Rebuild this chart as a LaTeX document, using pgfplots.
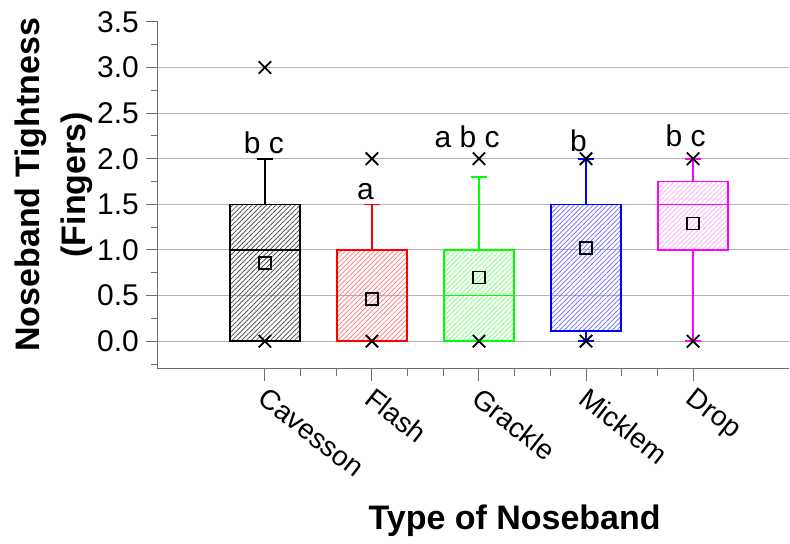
\documentclass[border=0pt]{standalone}
\usepackage{fontspec}
\setmainfont{Liberation Sans}
\usepackage{pgfplots}
\pgfplotsset{compat=1.18}
\usepgfplotslibrary{statistics}
\usetikzlibrary{patterns.meta}

\definecolor{cblack}{RGB}{0,0,0}
\definecolor{cred}{RGB}{255,0,0}
\definecolor{cgreen}{RGB}{0,255,0}
\definecolor{cblue}{RGB}{0,0,255}
\definecolor{cmag}{RGB}{255,0,255}
\definecolor{axgray}{RGB}{110,110,110}

\tikzset{hatch/.style={pattern={Lines[angle=45,distance=1.7pt,line width=0.35pt]}, pattern color=#1}}

\pgfplotsset{
  nb/.style 2 args={#1, line width=0.8pt, solid,
    mark=x, mark size=4.4pt, mark options={black, line width=0.9pt},
    boxplot/draw direction=y,
    boxplot/box extend=0.65, boxplot/whisker extend=0.15,
    boxplot/every box/.append style={hatch=#2}},
}

\begin{document}
\begin{tikzpicture}
\begin{axis}[
  scale only axis,
  width=316pt, height=173.5pt,
  xmin=0, xmax=5.9,
  ymin=-0.3, ymax=3.5,
  axis x line*=bottom, axis y line*=left,
  axis line style={axgray, line width=0.6pt},
  xtick={1,2,3,4,5},
  xticklabels={Cavesson,Flash,Grackle,Micklem,Drop},
  minor x tick num=2,
  ytick={0,0.5,...,3.0},
  extra y ticks={3.5},
  extra y tick style={grid=none},
  minor ytick={-0.25,0.25,0.75,...,3.25},
  ymajorgrids,
  grid style={gray!60, line width=0.5pt},
  tick align=outside,
  major tick length=6pt, minor tick length=3.5pt,
  tick style={axgray, line width=0.5pt},
  yticklabel style={font=\fontsize{15}{18}\selectfont,
    /pgf/number format/.cd, fixed, fixed zerofill, precision=1, assume math mode=true},
  xticklabel style={font=\fontsize{14}{17}\selectfont, rotate=-38, anchor=north west, inner sep=1pt, xshift=2pt},
  ylabel={Noseband Tightness\\(Fingers)},
  ylabel style={align=center, font=\bfseries\fontsize{17}{23}\selectfont,
    at={(axis description cs:-0.165,0.53)}, anchor=center},
  xlabel={Type of Noseband},
  xlabel style={font=\bfseries\fontsize{17}{20}\selectfont,
    at={(axis description cs:0.565,-0.44)}, anchor=center},
  clip=false,
]
% Cavesson
\addplot[nb={cblack}{black!75}, boxplot prepared={draw position=1,
  lower whisker=0, lower quartile=0, median=1, upper quartile=1.5, upper whisker=2}]
  coordinates {(0,3)(0,0)};
% Flash
\addplot[nb={cred}{cred!55}, boxplot prepared={draw position=2,
  lower whisker=0, lower quartile=0, median=0, upper quartile=1, upper whisker=1.5}]
  coordinates {(0,2)(0,0)};
% Grackle
\addplot[nb={cgreen}{cgreen!55}, boxplot prepared={draw position=3,
  lower whisker=0, lower quartile=0, median=0.5, upper quartile=1, upper whisker=1.8}]
  coordinates {(0,2)(0,0)};
% Micklem
\addplot[nb={cblue}{cblue!60}, boxplot prepared={draw position=4,
  lower whisker=0, lower quartile=0.11, median=1.5, upper quartile=1.5, upper whisker=2}]
  coordinates {(0,2)(0,0)};
% Drop
\addplot[nb={cmag}{cmag!35}, boxplot prepared={draw position=5,
  lower whisker=0, lower quartile=1, median=1.5, upper quartile=1.75, upper whisker=2}]
  coordinates {(0,2)(0,0)};
% means
\addplot[only marks, mark=square, mark size=3pt, black, line width=0.8pt]
  coordinates {(1,0.86)(2,0.46)(3,0.70)(4,1.02)(5,1.29)};

\begin{scope}[every node/.style={font=\fontsize{15}{18}\selectfont, anchor=base, inner sep=0pt}]
\node at (axis cs:0.99,2.06) {b c};
\node at (axis cs:1.94,1.55) {a};
\node at (axis cs:2.89,2.12) {a b c};
\node at (axis cs:3.93,2.08) {b};
\node at (axis cs:4.93,2.13) {b c};
\end{scope}

\coordinate (bbl) at (axis description cs:-0.25,-0.501);
\coordinate (btr) at (axis description cs:1,1.063);
\end{axis}
\path (bbl) rectangle (btr);
\end{tikzpicture}
\end{document}
